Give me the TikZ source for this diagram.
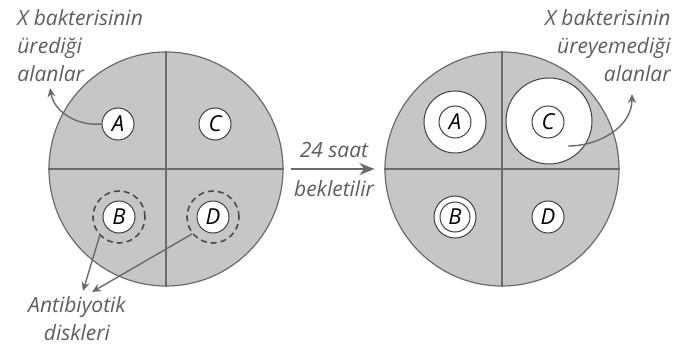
\documentclass[tikz,border=0pt]{standalone}
\usepackage{fontspec}
\setmainfont{Open Sans}
\usetikzlibrary{arrows.meta}
\definecolor{agar}{HTML}{C6C6C6}
\definecolor{kontur}{HTML}{6A6A6A}
\definecolor{yazi}{HTML}{5E5E5E}

\begin{document}
\begin{tikzpicture}[x=0.5pt,y=-0.5pt,
    plate/.style={circle,draw=kontur,fill=agar,line width=0.6pt,minimum size=117pt,inner sep=0pt},
    disk/.style={circle,draw=black!75,fill=white,line width=0.5pt,minimum size=16pt,inner sep=0pt,font=\itshape\fontsize{11}{13}\selectfont},
    halo/.style={circle,draw=black!75,fill=white,line width=0.5pt,inner sep=0pt},
    ring/.style={circle,draw=black!70,dashed,dash pattern=on 3pt off 2pt,line width=0.8pt,minimum size=26pt,inner sep=0pt},
    lbl/.style={text=yazi,font=\itshape\fontsize{10.5}{14}\selectfont,inner sep=0pt},
    pointer/.style={draw=kontur,line width=0.7pt,-{Stealth[length=4.5pt,width=4pt]}}]
    \useasboundingbox (0,0) rectangle (685,347);

    \node[plate] (L) at (166,169) {};
    \node[plate] (R) at (502,169) {};
    \draw[kontur,line width=0.6pt] (L.north) -- (L.south) (L.west) -- (L.east);
    \draw[kontur,line width=0.6pt] (R.north) -- (R.south) (R.west) -- (R.east);

    \node[ring] (Bd) at (119,217) {};
    \node[ring] (Dd) at (213,217) {};
    \node[disk] (A1) at (118,124) {A};
    \node[disk] (C1) at (215,124) {C};
    \node[disk] (B1) at (119,217) {B};
    \node[disk] (D1) at (213,217) {D};

    \node[halo,minimum size=31pt] (Ah) at (455,122) {};
    \node[halo,minimum size=43pt] (Ch) at (549,121) {};
    \node[halo,minimum size=21pt] (Bh) at (455,217) {};
    \node[disk] (A2) at (455,122) {A};
    \node[disk] (C2) at (548,122) {C};
    \node[disk,minimum size=15pt] (B2) at (455,217) {B};
    \node[disk] (D2) at (548,217) {D};

    \draw[draw=kontur,line width=1.1pt,-{Stealth[length=7.5pt,width=6pt]},shorten <=3.5pt,shorten >=5pt]
        (L.east) -- node[lbl,above=5pt] (t1) {24 saat} node[lbl,below=5pt] (t2) {bekletilir} (R.west);

    \node[lbl,anchor=north west,align=left] (yes) at (17,9) {X bakterisinin\\üredi\u{g}i\\alanlar};
    \node[lbl,anchor=north east,align=right] (no) at (671,9) {X bakterisinin\\üreyemedi\u{g}i\\alanlar};
    \node[lbl,align=center] (ab) at (77,319) {Antibiyotik\\diskleri};

    \coordinate (g1) at (50,88);
    \coordinate (g2) at (568,146);
    \coordinate (g3) at (632,94);
    \coordinate (g4) at (83,291);
    \coordinate (g5) at (92,292);
    \draw[pointer] (A1.west) to[out=185,in=-80] (g1);
    \draw[pointer] (g2) to[out=0,in=-90] (g3);
    \draw[pointer] (Bd.224) -- (g4);
    \draw[pointer] (Dd.219) -- (g5);
\end{tikzpicture}
\end{document}
